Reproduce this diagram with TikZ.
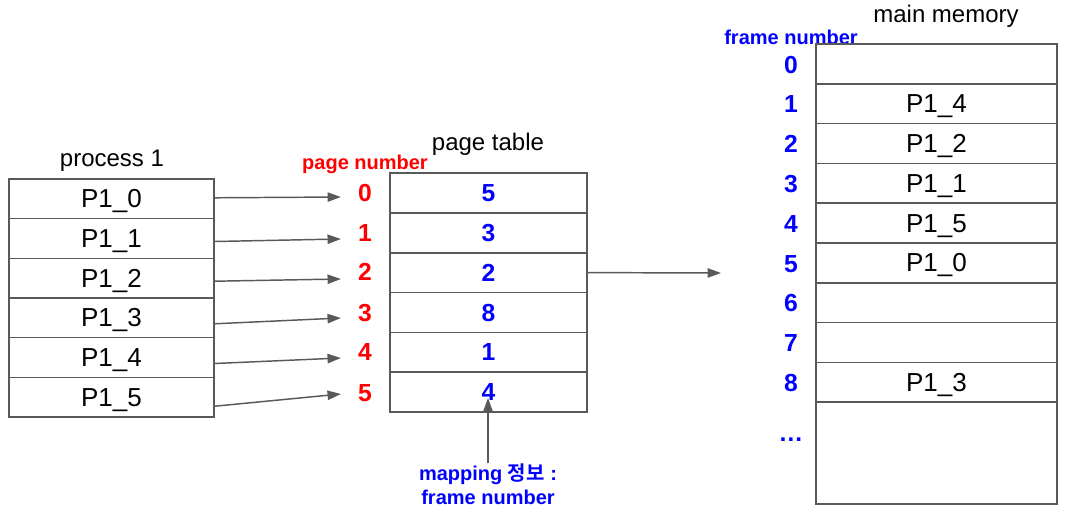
\documentclass[tikz,border=0pt]{standalone}
\usepackage{fontspec}
\setmainfont{Liberation Sans}
\newfontfamily\kofont{Noto Sans CJK KR}[BoldFont={* Bold}]
\usetikzlibrary{arrows.meta}
\usetikzlibrary{calc}
\definecolor{lineGray}{RGB}{89,89,89}
\definecolor{pageRed}{RGB}{255,0,0}
\definecolor{frameBlue}{RGB}{0,0,255}

\begin{document}
\begin{tikzpicture}[x = 0.75pt, y = -0.75pt]
	\tikzstyle{rowStyle} = [draw = lineGray, line width = 1.2pt, inner sep = 0pt, minimum height = 29.8pt, text depth = 0pt, font = \fontsize{19.5}{22}\selectfont]
	\tikzstyle{procStyle} = [rowStyle, minimum width = 153.75pt]
	\tikzstyle{tableStyle} = [rowStyle, minimum width = 147.75pt, text = frameBlue, font = \fontsize{18.5}{20}\selectfont\bfseries]
	\tikzstyle{memStyle} = [rowStyle, minimum width = 180.75pt]
	\tikzstyle{titleStyle} = [inner sep = 0pt, font = \fontsize{18}{20}\selectfont]
	\tikzstyle{pageNumStyle} = [inner sep = 0pt, text = pageRed, font = \fontsize{18.5}{20}\selectfont\bfseries]
	\tikzstyle{frameNumStyle} = [inner sep = 0pt, text = frameBlue, font = \fontsize{18.5}{20}\selectfont\bfseries]
	\tikzstyle{captionStyle} = [inner sep = 0pt, font = \fontsize{15}{18}\selectfont\bfseries]
	\tikzstyle{arrowStyle} = [draw = lineGray, line width = 1.1pt, -{Triangle[length = 10pt, width = 7pt]}]
	\useasboundingbox (0, 0) rectangle (1069, 513);
	% process 1
	\node[titleStyle] (procTitle) at (112, 161) {process 1};
	\node[procStyle] (p0) at (111.5, 198.8) {P1\_0};
	\node[procStyle] (p1) at (111.5, 238.5) {P1\_1};
	\node[procStyle] (p2) at (111.5, 278.2) {P1\_2};
	\node[procStyle] (p3) at (111.5, 317.8) {P1\_3};
	\node[procStyle] (p4) at (111.5, 357.5) {P1\_4};
	\node[procStyle] (p5) at (111.5, 397.2) {P1\_5};
	% page table
	\node[titleStyle] (tableTitle) at (488, 144) {page table};
	\node[captionStyle, text = pageRed] (pageNum) at (365, 164) {page number};
	\node[pageNumStyle] (n0) at (365, 193) {0};
	\node[pageNumStyle] (n1) at (365, 233) {1};
	\node[pageNumStyle] (n2) at (365, 272) {2};
	\node[pageNumStyle] (n3) at (365, 313) {3};
	\node[pageNumStyle] (n4) at (365, 352) {4};
	\node[pageNumStyle] (n5) at (365, 393) {5};
	\node[tableStyle] (t0) at (488.5, 192.9) {5};
	\node[tableStyle] (t1) at (488.5, 232.8) {3};
	\node[tableStyle] (t2) at (488.5, 272.6) {2};
	\node[tableStyle] (t3) at (488.5, 312.5) {8};
	\node[tableStyle] (t4) at (488.5, 352.3) {1};
	\node[tableStyle] (t5) at (488.5, 392.2) {4};
	\node[captionStyle, text = frameBlue, align = center] (mapInfo) at (488, 484) {mapping {\kofont 정보} :\\frame number};
	% main memory
	\node[titleStyle] (memTitle) at (946, 16) {main memory};
	\node[captionStyle, text = frameBlue] (frameNum) at (791, 37) {frame number};
	\node[frameNumStyle] (f0) at (791, 65) {0};
	\node[frameNumStyle] (f1) at (791, 104) {1};
	\node[frameNumStyle] (f2) at (791, 144) {2};
	\node[frameNumStyle] (f3) at (791, 184) {3};
	\node[frameNumStyle] (f4) at (791, 224) {4};
	\node[frameNumStyle] (f5) at (791, 264) {5};
	\node[frameNumStyle] (f6) at (791, 303) {6};
	\node[frameNumStyle] (f7) at (791, 343) {7};
	\node[frameNumStyle] (f8) at (791, 383) {8};
	\node[frameNumStyle] (fDots) at (791, 440) {\dots};
	\node[memStyle] (m0) at (936.5, 63.9) {};
	\node[memStyle] (m1) at (936.5, 103.7) {P1\_4};
	\node[memStyle] (m2) at (936.5, 143.5) {P1\_2};
	\node[memStyle] (m3) at (936.5, 183.3) {P1\_1};
	\node[memStyle] (m4) at (936.5, 223.1) {P1\_5};
	\node[memStyle] (m5) at (936.5, 262.9) {P1\_0};
	\node[memStyle] (m6) at (936.5, 302.7) {};
	\node[memStyle] (m7) at (936.5, 342.5) {};
	\node[memStyle] (m8) at (936.5, 382.3) {P1\_3};
	\node[memStyle, minimum height = 76.4pt] (mRest) at (936.5, 453.1) {};
	% connectors
	\coordinate (toMem) at (721, 273);
	\coordinate (toEntry) at (488, 398);
	\draw[arrowStyle] ($(p0.east) + (0, -1)$) -- ($(n0.west) + (-17, 4)$);
	\draw[arrowStyle] ($(p1.east) + (0, 3)$) -- ($(n1.west) + (-17, 6)$);
	\draw[arrowStyle] ($(p2.east) + (0, 3)$) -- ($(n2.west) + (-17, 7)$);
	\draw[arrowStyle] ($(p3.east) + (0, 6)$) -- ($(n3.west) + (-17, 5)$);
	\draw[arrowStyle] ($(p4.east) + (0, 6)$) -- ($(n4.west) + (-17, 6)$);
	\draw[arrowStyle] ($(p5.east) + (0, 9)$) -- ($(n5.west) + (-17, 1)$);
	\draw[arrowStyle] (t2.east) -- (toMem);
	\draw[arrowStyle] (mapInfo.north) -- (toEntry);
\end{tikzpicture}
\end{document}
